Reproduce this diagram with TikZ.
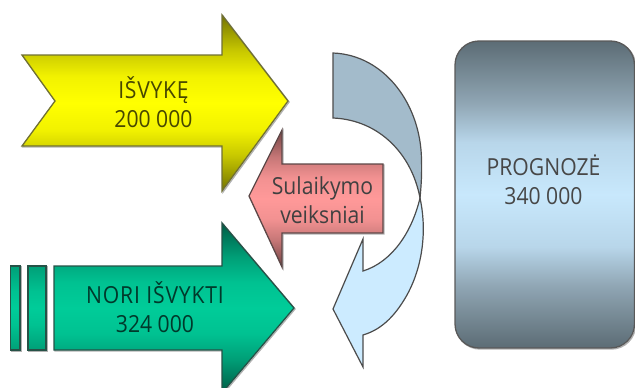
\documentclass[tikz,border=0pt]{standalone}
\usepackage{fontspec}
\setmainfont{Open Sans}[FakeStretch=0.9]
\definecolor{yellowmid}{HTML}{FFFF00}
\definecolor{greenmid}{HTML}{00CC99}
\definecolor{pinkmid}{HTML}{FF9999}
\definecolor{slate}{HTML}{5C6C75}
\definecolor{slatemid}{HTML}{8FA5B3}
\definecolor{slatelight}{HTML}{B8D6EA}
\definecolor{paleblue}{HTML}{C8E8FC}
\definecolor{banddark}{HTML}{A3BBCB}
\definecolor{bandlight}{HTML}{CCEBFF}
\newcommand\mkarrowshade[2]{\pgfdeclareverticalshading{#1}{100bp}{color(0bp)=(#2!45!black); color(25bp)=(#2!45!black); color(35bp)=(#2!78!black); color(42.5bp)=(#2!95!black); color(50bp)=(#2); color(57.5bp)=(#2!95!black); color(65bp)=(#2!78!black); color(75bp)=(#2!45!black); color(100bp)=(#2!45!black)}}
\mkarrowshade{yellowshade}{yellowmid}
\mkarrowshade{greenshade}{greenmid}
\mkarrowshade{pinkshade}{pinkmid}
\pgfdeclareverticalshading{barshade}{100bp}{color(0bp)=(greenmid!78!black); color(25bp)=(greenmid!78!black); color(40bp)=(greenmid!95!black); color(50bp)=(greenmid); color(60bp)=(greenmid!95!black); color(75bp)=(greenmid!78!black); color(100bp)=(greenmid!78!black)}
\pgfdeclareverticalshading{boxshade}{100bp}{color(0bp)=(slate); color(25bp)=(slate); color(35bp)=(slatemid); color(41.5bp)=(slatelight); color(50bp)=(paleblue); color(58.5bp)=(slatelight); color(65bp)=(slatemid); color(75bp)=(slate); color(100bp)=(slate)}
\tikzset{
  shapeline/.style={draw=#1,line width=1.3pt,line join=miter},
  softedge/.style={draw=black!30,line width=1.4pt,line join=miter},
  yellowfill/.style={shapeline=yellowmid!30!black!80,shading=yellowshade},
  greenfill/.style={shapeline=greenmid!25!black!85,shading=greenshade},
  barfill/.style={shapeline=greenmid!25!black!85,shading=barshade},
  pinkfill/.style={shapeline=pinkmid!25!black!85,shading=pinkshade},
  bluefill/.style={shapeline=black!65,shading=boxshade},
  bandline/.style={draw=black!70,line width=1.2pt,line join=miter},
  lbl/.style={font=\fontsize{23.5}{29}\selectfont,align=center,inner sep=0pt},
}
\begin{document}
\begin{tikzpicture}[x=1pt,y=-1pt]
\useasboundingbox (0,0) rectangle (635,388);
\clip (0,0) rectangle (635,388);
% yellow arrow
\path[softedge] (23,56) -- (223,56) -- (223,16) -- (289,102) -- (223,192) -- (223,147) -- (23,147) -- (56,102) -- cycle;
\path[yellowfill] (22,55) -- (222,55) -- (222,15) -- (288,101) -- (222,191) -- (222,146) -- (22,146) -- (55,101) -- cycle;
\node[lbl,text=yellowmid!28!black] (a) at (153.5,102) {\addfontfeature{LetterSpace=3}IŠVYKĘ\\200 000};
% green arrow with bars
\path[softedge] (11.5,267) rectangle (21,351);
\path[softedge] (29,267) rectangle (47,351);
\path[softedge] (55,267) -- (223,267) -- (223,224) -- (295,309) -- (223,394) -- (223,351) -- (55,351) -- cycle;
\path[barfill] (10.5,266) rectangle (20,350);
\path[barfill] (28,266) rectangle (46,350);
\path[greenfill] (54,266) -- (222,266) -- (222,223) -- (294,308) -- (222,393) -- (222,350) -- (54,350) -- cycle;
\node[lbl,text=greenmid!28!black] (b) at (155,307.5) {\addfontfeature{LetterSpace=3.5}NORI IŠVYKTI\\324 000};
% pink arrow
\path[softedge] (250,197) -- (283,131) -- (283,165) -- (384,165) -- (384,234) -- (283,234) -- (283,268) -- cycle;
\path[pinkfill] (249,196) -- (282,130) -- (282,164) -- (383,164) -- (383,233) -- (282,233) -- (282,267) -- cycle;
\node[lbl,text=black!75] (c) at (322.5,200) {Sulaikymo\\veiksniai};
% curved arrow
\path[bandline,fill=bandlight] (420,198) .. controls (426,225) and (425,262) .. (407,295) .. controls (394,318) and (380,330) .. (363,335) -- (363,367) -- (333,309) -- (363,239) -- (363,271) .. controls (392,262) and (412,232) .. cycle;
\path[bandline,fill=banddark] (333,53) .. controls (385,55) and (421,105) .. (421.5,160) .. controls (422,175) and (421,188) .. (420,198) .. controls (412,155) and (380,120) .. (333,118) -- cycle;
% forecast box
\path[softedge,rounded corners=24pt] (456,42) rectangle (635.5,349);
\path[bluefill,rounded corners=24pt] (455,41) rectangle (634.5,348);
\node[lbl,text=black!72] (d) at (543.5,179.5) {PROGNOZĖ\\340 000};
\end{tikzpicture}
\end{document}
